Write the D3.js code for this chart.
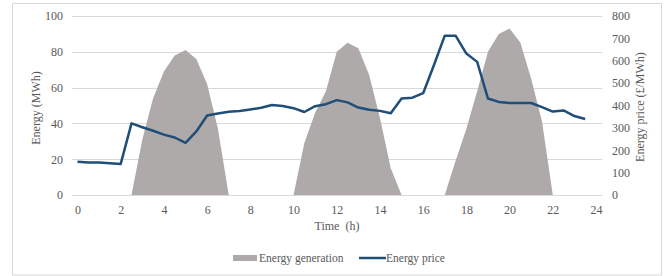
<!DOCTYPE html>
<html>
<head>
<meta charset="utf-8">
<script src="https://cdn.jsdelivr.net/npm/d3@7"></script>
<style>
  body { margin: 0; background: #fff; }
  text { font-family: "Liberation Serif", "Times New Roman", serif; fill: #595959; }
</style>
</head>
<body>
<div id="chart"></div>
<script>
const hours = [0, 0.5, 1, 1.5, 2, 2.5, 3, 3.5, 4, 4.5, 5, 5.5, 6, 6.5, 7, 7.5, 8, 8.5, 9, 9.5,
  10, 10.5, 11, 11.5, 12, 12.5, 13, 13.5, 14, 14.5, 15, 15.5, 16, 16.5, 17, 17.5, 18, 18.5, 19, 19.5,
  20, 20.5, 21, 21.5, 22, 22.5, 23, 23.5];

const generation = [0, 0, 0, 0, 0, 0, 31, 54, 69, 78, 81, 76, 62, 37, 0, 0, 0, 0, 0, 0,
  0, 29, 46, 58, 80, 85, 82, 67, 43, 15, 0, 0, 0, 0, 0, 19, 37, 58, 80, 90,
  93, 85, 65, 41, 0, 0, 0, 0];

const price = [149, 145, 145, 142, 139, 320, 303, 287, 270, 257, 233, 284, 355, 364, 372, 375, 382, 390, 402, 398,
  388, 371, 397, 406, 424, 414, 391, 381, 376, 365, 431, 435, 455, 581, 712, 712, 632, 595, 431, 416,
  411, 411, 411, 393, 373, 378, 353, 340];

const xTicks = [0, 2, 4, 6, 8, 10, 12, 14, 16, 18, 20, 22, 24];
const energyTicks = [0, 20, 40, 60, 80, 100];
const priceTicks = [0, 100, 200, 300, 400, 500, 600, 700, 800];

const width = 669, height = 276;
const plot = { left: 72, right: 602, top: 16, bottom: 195 };

const svg = d3.select("#chart").append("svg")
  .attr("width", width)
  .attr("height", height);

// outer border
svg.append("rect")
  .attr("x", 12.5).attr("y", 3.5)
  .attr("width", 649).attr("height", 271.5)
  .attr("fill", "none")
  .attr("stroke", "#d9d9d9");

const x = d3.scaleLinear().domain([0, 24]).range([77.5, 596]);
const yE = d3.scaleLinear().domain([0, 100]).range([plot.bottom, plot.top]);
const yP = d3.scaleLinear().domain([0, 800]).range([plot.bottom, plot.top]);

// gridlines
svg.append("g").selectAll("line")
  .data(energyTicks)
  .enter().append("line")
  .attr("x1", plot.left).attr("x2", plot.right)
  .attr("y1", d => Math.round(yE(d)) + 0.5)
  .attr("y2", d => Math.round(yE(d)) + 0.5)
  .attr("stroke", "#d9d9d9")
  .attr("stroke-width", 1);

// generation area
const area = d3.area()
  .x((d, i) => x(hours[i]))
  .y0(yE(0))
  .y1(d => yE(d));

svg.append("path")
  .datum(generation)
  .attr("d", area)
  .attr("fill", "#aeaaaa");

// price line
const line = d3.line()
  .x((d, i) => x(hours[i]))
  .y(d => yP(d));

svg.append("path")
  .datum(price)
  .attr("d", line)
  .attr("fill", "none")
  .attr("stroke", "#1f4e79")
  .attr("stroke-width", 2.5)
  .attr("stroke-linejoin", "round");

// axes
const fontSize = "12px";

const leftAxis = svg.append("g")
  .attr("transform", "translate(" + plot.left + ",0)")
  .call(d3.axisLeft(yE).tickValues(energyTicks).tickSize(0).tickPadding(9));
leftAxis.select(".domain").remove();
leftAxis.selectAll("text").style("font-size", fontSize).attr("fill", "#595959");

const rightAxis = svg.append("g")
  .attr("transform", "translate(" + plot.right + ",0)")
  .call(d3.axisRight(yP).tickValues(priceTicks).tickSize(0).tickPadding(10));
rightAxis.select(".domain").remove();
rightAxis.selectAll("text").style("font-size", fontSize).attr("fill", "#595959");

const bottomAxis = svg.append("g")
  .attr("transform", "translate(0," + plot.bottom + ")")
  .call(d3.axisBottom(x).tickValues(xTicks).tickSize(0).tickPadding(10));
bottomAxis.select(".domain").remove();
bottomAxis.selectAll("text").style("font-size", fontSize).attr("fill", "#595959");

// axis titles
svg.append("text")
  .attr("transform", "translate(40,108) rotate(-90)")
  .attr("text-anchor", "middle")
  .style("font-size", fontSize)
  .text("Energy (MWh)");

svg.append("text")
  .attr("transform", "translate(644,107) rotate(-90)")
  .attr("text-anchor", "middle")
  .style("font-size", fontSize)
  .text("Energy price (£/MWh)");

svg.append("text")
  .attr("x", 337).attr("y", 230)
  .attr("text-anchor", "middle")
  .style("font-size", fontSize)
  .text("Time\u00a0 (h)");

// legend
svg.append("rect")
  .attr("x", 233).attr("y", 255)
  .attr("width", 24).attr("height", 6)
  .attr("fill", "#aeaaaa");
svg.append("text")
  .attr("x", 259).attr("y", 262)
  .style("font-size", "11.5px")
  .text("Energy generation");

svg.append("line")
  .attr("x1", 359).attr("x2", 386)
  .attr("y1", 258).attr("y2", 258)
  .attr("stroke", "#1f4e79")
  .attr("stroke-width", 2.5);
svg.append("text")
  .attr("x", 386).attr("y", 262)
  .style("font-size", "11.5px")
  .text("Energy price");
</script>
</body>
</html>
